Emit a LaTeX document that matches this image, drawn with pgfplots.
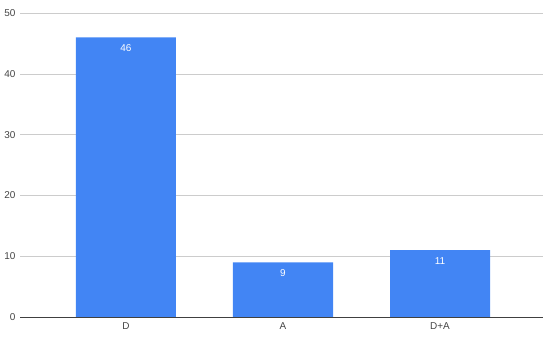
\documentclass[border=0pt]{standalone}
\usepackage{pgfplots}
\pgfplotsset{compat=1.18}
\usepackage{fontspec}
\setmainfont{Liberation Sans}
\definecolor{barblue}{HTML}{4285F4}
\definecolor{labgray}{HTML}{444444}
\begin{document}
\begin{tikzpicture}[x=1bp,y=1bp]
\path[use as bounding box] (0,0) rectangle (550,337);
\begin{axis}[
  at={(20bp,20bp)}, anchor=south west,
  scale only axis, width=523bp, height=304bp,
  xmin=-0.675, xmax=2.656, ymin=0, ymax=50,
  ytick={0,10,20,30,40,50},
  xtick={0,1,2}, xticklabels={D,A,D+A},
  axis line style={draw=none},
  ymajorgrids, grid style={draw=black!20, line width=0.6pt},
  major tick length=0pt,
  tick label style={font=\fontsize{10}{11}\selectfont, text=labgray},
  /pgf/number format/assume math mode=true,
  yticklabel style={xshift=-1bp},
  xticklabel style={yshift=-2bp},
  ybar, bar width=0.637,
  nodes near coords,
  every node near coord/.append style={font=\fontsize{10}{11}\selectfont, text=white, anchor=north, yshift=-4bp},
]
\addplot[fill=barblue, draw=none] coordinates {(0,46) (1,9) (2,11)};
\draw[black!75, line width=0.8pt] (axis cs:-0.675,0) -- (axis cs:2.656,0);
\end{axis}
\end{tikzpicture}
\end{document}
